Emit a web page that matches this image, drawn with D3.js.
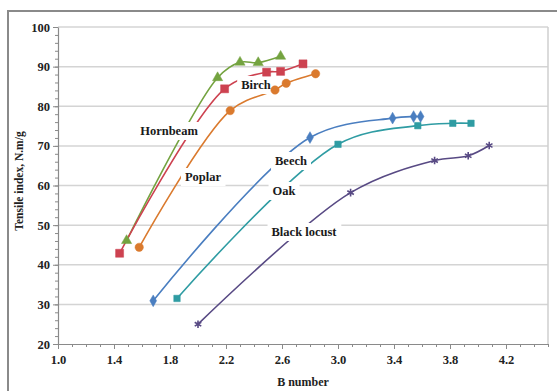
<!DOCTYPE html>
<html>
<head>
<meta charset="utf-8">
<script src="https://cdn.jsdelivr.net/npm/d3@7"></script>
<style>
  html, body { margin: 0; padding: 0; background: #fff; }
  svg { display: block; }
  text { font-family: "Liberation Serif", "Times New Roman", serif; font-weight: bold; }
</style>
</head>
<body>
<svg id="chart" width="557" height="391"></svg>
<script>
// Data
const hornbeamB = [1.49, 2.14, 2.30, 2.43, 2.59];
const hornbeamT = [46.1, 87.2, 91.1, 91.0, 92.6];
const birchB = [1.44, 2.19, 2.49, 2.59, 2.75];
const birchT = [42.9, 84.4, 88.6, 88.8, 90.7];
const poplarB = [1.58, 2.23, 2.55, 2.63, 2.84];
const poplarT = [44.4, 78.9, 84.1, 85.8, 88.2];
const beechB = [1.68, 2.80, 3.39, 3.54, 3.59];
const beechT = [30.9, 72.1, 77.0, 77.4, 77.4];
const oakB = [1.85, 3.00, 3.57, 3.82, 3.95];
const oakT = [31.5, 70.4, 75.1, 75.7, 75.7];
const locustB = [2.00, 3.09, 3.69, 3.93, 4.08];
const locustT = [25.0, 58.2, 66.3, 67.5, 70.1];

const xTicks = [1.0, 1.4, 1.8, 2.2, 2.6, 3.0, 3.4, 3.8, 4.2];
const yTicks = [20, 30, 40, 50, 60, 70, 80, 90, 100];

const series = [
  { name: 'Hornbeam', b: hornbeamB, t: hornbeamT, color: '#74A340', symbol: d3.symbolTriangle, size: 45, label: [169, 131] },
  { name: 'Birch', b: birchB, t: birchT, color: '#CD4250', symbol: d3.symbolSquare, size: 64, label: [256, 85] },
  { name: 'Poplar', b: poplarB, t: poplarT, color: '#DA7A2E', symbol: d3.symbolCircle, size: 55, label: [203, 177] },
  { name: 'Beech', b: beechB, t: beechT, color: '#4A7EC0', symbol: d3.symbolDiamond, size: 40, label: [291, 161] },
  { name: 'Oak', b: oakB, t: oakT, color: '#2F9CA3', symbol: d3.symbolSquare, size: 42, label: [284, 191] },
  { name: 'Black locust', b: locustB, t: locustT, color: '#584A84', symbol: d3.symbolAsterisk, size: 40, label: [304, 232] }
];

const svg = d3.select('#chart');

// outer chart frame
svg.append('rect')
  .attr('x', 8).attr('y', 11)
  .attr('width', 580).attr('height', 420)
  .attr('fill', '#fff')
  .attr('stroke', '#8a8a8a')
  .attr('stroke-width', 2);

const x = d3.scaleLinear().domain([1.0, 4.5]).range([58, 548]);
const y = d3.scaleLinear().domain([20, 100]).range([344, 27]);

// Grid lines
svg.append('g')
  .selectAll('line')
  .data(yTicks.slice(1))
  .join('line')
  .attr('x1', x(1.0)).attr('x2', x(4.5))
  .attr('y1', d => y(d)).attr('y2', d => y(d))
  .attr('stroke', '#d4d4d4')
  .attr('stroke-width', 1.5);

// plot area right border
svg.append('line')
  .attr('x1', x(4.5)).attr('x2', x(4.5))
  .attr('y1', y(100)).attr('y2', y(20))
  .attr('stroke', '#cfcfcf')
  .attr('stroke-width', 1.5);

// Line generator (Excel-like smoothing)
const line = d3.line()
  .x(d => x(d[0]))
  .y(d => y(d[1]))
  .curve(d3.curveCatmullRom.alpha(0.5));

series.forEach(s => {
  const pts = s.b.map((b, i) => [b, s.t[i]]);
  svg.append('path')
    .datum(pts)
    .attr('fill', 'none')
    .attr('stroke', s.color)
    .attr('stroke-width', 1.6)
    .attr('d', line);
});

// Label boxes (white fill hides lines behind them)
series.forEach(s => {
  const t = svg.append('text')
    .attr('x', s.label[0]).attr('y', s.label[1])
    .attr('text-anchor', 'middle')
    .attr('dominant-baseline', 'central')
    .attr('font-size', '12.5px')
    .attr('fill', '#1a1a1a')
    .text(s.name);
  const bb = t.node().getBBox();
  svg.insert('rect', () => t.node())
    .attr('x', bb.x - 4).attr('y', bb.y - 2)
    .attr('width', bb.width + 8).attr('height', bb.height + 4)
    .attr('fill', '#fff');
});

// Markers
series.forEach(s => {
  const pts = s.b.map((b, i) => [b, s.t[i]]);
  const asterisk = s.symbol === d3.symbolAsterisk;
  svg.append('g')
    .selectAll('path')
    .data(pts)
    .join('path')
    .attr('transform', d => `translate(${x(d[0])},${y(d[1])})`)
    .attr('d', d3.symbol().type(s.symbol).size(s.size))
    .attr('fill', asterisk ? 'none' : s.color)
    .attr('stroke', s.color)
    .attr('stroke-width', asterisk ? 1.6 : 0.5);
});

// Y axis (minor then major)
svg.append('g')
  .attr('transform', `translate(${x(1.0)},0)`)
  .call(d3.axisLeft(y).tickValues(d3.range(20, 101, 2)).tickSize(3).tickFormat(''))
  .call(g => g.select('.domain').remove())
  .call(g => g.selectAll('line').attr('stroke', '#8a8a8a'));

svg.append('g')
  .attr('transform', `translate(${x(1.0)},0)`)
  .call(d3.axisLeft(y).tickValues(yTicks).tickSize(5).tickSizeOuter(0).tickPadding(3))
  .call(g => g.select('.domain').attr('stroke', '#8a8a8a').attr('stroke-width', 1.2))
  .call(g => g.selectAll('line').attr('stroke', '#8a8a8a'))
  .selectAll('text')
  .attr('font-family', '"Liberation Serif", serif')
  .attr('font-weight', 'bold')
  .attr('font-size', '12.5px')
  .attr('fill', '#222');

// X axis (minor then major)
svg.append('g')
  .attr('transform', `translate(0,${y(20)})`)
  .call(d3.axisBottom(x).tickValues(d3.range(10, 46, 1).map(v => v / 10)).tickSize(3).tickFormat(''))
  .call(g => g.select('.domain').remove())
  .call(g => g.selectAll('line').attr('stroke', '#8a8a8a'));

svg.append('g')
  .attr('transform', `translate(0,${y(20)})`)
  .call(d3.axisBottom(x).tickValues(xTicks).tickSize(5).tickSizeOuter(0).tickPadding(6).tickFormat(d3.format('.1f')))
  .call(g => g.select('.domain').attr('stroke', '#8a8a8a').attr('stroke-width', 1.2))
  .call(g => g.selectAll('line').attr('stroke', '#8a8a8a'))
  .selectAll('text')
  .attr('font-family', '"Liberation Serif", serif')
  .attr('font-weight', 'bold')
  .attr('font-size', '12.5px')
  .attr('fill', '#222');

// Axis titles
svg.append('text')
  .attr('transform', 'translate(19,181) rotate(-90)')
  .attr('text-anchor', 'middle')
  .attr('dominant-baseline', 'central')
  .attr('font-size', '11.5px')
  .attr('fill', '#222')
  .text('Tensile index, N.m/g');

svg.append('text')
  .attr('x', 303).attr('y', 386)
  .attr('text-anchor', 'middle')
  .attr('font-size', '12px')
  .attr('fill', '#222')
  .text('B number');
</script>
</body>
</html>
